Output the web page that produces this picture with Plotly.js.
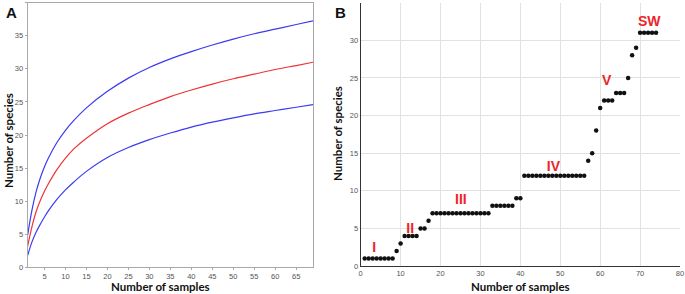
<!DOCTYPE html>
<html>
<head>
<meta charset="utf-8">
<script src="https://cdn.plot.ly/plotly-3.0.1.min.js"></script>
<style>html,body{margin:0;padding:0;background:#fff;}#chart{width:685px;height:294px;}</style>
</head>
<body>
<div id="chart"></div>
<script>
// Panel A: rarefaction curves
const samplesA = [1,2,3,4,5,6,8,10,12,15,20,25,30,35,40,45,50,55,60,65,69];
const upperCI  = [4.9,8.6,11.4,13.5,15.2,16.6,18.9,20.7,22.2,24.1,26.6,28.6,30.2,31.5,32.6,33.6,34.5,35.3,36.0,36.7,37.25];
const expected = [3.2,6.1,8.4,10.1,11.5,12.7,14.8,16.5,17.9,19.5,21.7,23.3,24.6,25.8,26.8,27.7,28.5,29.2,29.9,30.5,31.0];
const lowerCI  = [1.8,3.8,5.3,6.5,7.6,8.6,10.3,11.7,12.9,14.5,16.6,18.1,19.3,20.3,21.2,21.95,22.6,23.2,23.7,24.2,24.6];

// Panel B: cumulative species per sample
const samplesB = [];
for (let i = 1; i <= 74; i++) samplesB.push(i);
const speciesB = [
  1,1,1,1,1,1,1,1,      // 1-8
  2,3,                  // 9-10
  4,4,4,4,              // 11-14
  5,5,6,                // 15-17
  7,7,7,7,7,7,7,7,7,7,7,7,7,7,7, // 18-32
  8,8,8,8,8,8,          // 33-38
  9,9,                  // 39-40
  12,12,12,12,12,12,12,12,12,12,12,12,12,12,12,12, // 41-56
  14,15,18,21,          // 57-60
  22,22,22,             // 61-63
  23,23,23,             // 64-66
  25,28,29,             // 67-69
  31,31,31,31,31        // 70-74
];
const groupLabels = ["I","II","III","IV","V","SW"];
const groupX = [3.4,12.4,25.1,48.3,61.6,72.3];
const groupY = [2.3,4.9,8.7,13.1,24.5,32.4];

const W = 685, H = 294;
const px = x => x / W;
const py = y => 1 - y / H;

const traces = [
  {x: samplesA, y: upperCI, type:'scatter', mode:'lines', line:{color:'#3b3bf2', width:1.2, shape:'spline', smoothing:1}, xaxis:'x', yaxis:'y', hoverinfo:'skip'},
  {x: samplesA, y: expected, type:'scatter', mode:'lines', line:{color:'#ee3333', width:1.2, shape:'spline', smoothing:1}, xaxis:'x', yaxis:'y', hoverinfo:'skip'},
  {x: samplesA, y: lowerCI, type:'scatter', mode:'lines', line:{color:'#3b3bf2', width:1.2, shape:'spline', smoothing:1}, xaxis:'x', yaxis:'y', hoverinfo:'skip'},
  {x: samplesB, y: speciesB, type:'scatter', mode:'markers', marker:{color:'#111', size:4.5}, xaxis:'x2', yaxis:'y2', hoverinfo:'skip'},
  {x: groupX, y: groupY, type:'scatter', mode:'text', text: groupLabels, textfont:{family:'Liberation Sans, Arial', size:14, color:'#ee2428', weight:'bold'}, xaxis:'x2', yaxis:'y2', hoverinfo:'skip'}
];

const tickFont = {family:'Liberation Sans, Arial', size:7.5, color:'#555'};
const titleFont = {family:'Lato, Open Sans', size:11.5, color:'#111', weight:'bold'};

const layout = {
  width: W, height: H,
  margin: {l:0, r:0, t:0, b:0},
  paper_bgcolor:'#fff', plot_bgcolor:'#fff',
  showlegend: false,
  xaxis: {domain:[px(27.7), px(313)], range:[1,69], tickvals:[5,10,15,20,25,30,35,40,45,50,55,60,65],
          showgrid:false, zeroline:false, showline:true, mirror:true, linecolor:'#a8a8a8', linewidth:1,
          ticks:'outside', ticklen:2, tickcolor:'#a8a8a8', tickfont:tickFont, anchor:'y'},
  yaxis: {domain:[py(267.3), py(2.7)], range:[0,40], dtick:5, tick0:0,
          showgrid:false, zeroline:false, showline:true, mirror:true, linecolor:'#a8a8a8', linewidth:1,
          ticks:'outside', ticklen:2, tickcolor:'#a8a8a8', tickfont:tickFont, anchor:'x'},
  xaxis2: {domain:[px(360.7), px(680)], range:[0,80], dtick:10, tick0:0,
           showgrid:true, gridcolor:'#e2e2e2', gridwidth:1, zeroline:false, showline:true, linecolor:'#333', linewidth:1,
           ticks:'', tickfont:tickFont, anchor:'y2'},
  yaxis2: {domain:[py(266), py(2.7)], range:[0,35], dtick:5, tick0:0,
           showgrid:true, gridcolor:'#e2e2e2', gridwidth:1, zeroline:false, showline:true, linecolor:'#333', linewidth:1,
           ticks:'', tickfont:tickFont, anchor:'x2'},
  annotations: [
    {text:'A', xref:'paper', yref:'paper', x:px(4), y:py(12), xanchor:'left', yanchor:'middle', showarrow:false,
     font:{family:'Liberation Sans, Arial', size:15, color:'#111', weight:'bold'}},
    {text:'B', xref:'paper', yref:'paper', x:px(333), y:py(12), xanchor:'left', yanchor:'middle', showarrow:false,
     font:{family:'Liberation Sans, Arial', size:15, color:'#111', weight:'bold'}},
    {text:'Number of species', xref:'paper', yref:'paper', x:px(8), y:py(141), xanchor:'center', yanchor:'middle', textangle:-90, showarrow:false, font:titleFont},
    {text:'Number of samples', xref:'paper', yref:'paper', x:px(160.5), y:py(286), xanchor:'center', yanchor:'middle', showarrow:false, font:titleFont},
    {text:'Number of species', xref:'paper', yref:'paper', x:px(337), y:py(134), xanchor:'center', yanchor:'middle', textangle:-90, showarrow:false, font:titleFont},
    {text:'Number of samples', xref:'paper', yref:'paper', x:px(520), y:py(286), xanchor:'center', yanchor:'middle', showarrow:false, font:titleFont}
  ]
};

Plotly.newPlot('chart', traces, layout, {staticPlot:true, displayModeBar:false});
</script>
</body>
</html>
